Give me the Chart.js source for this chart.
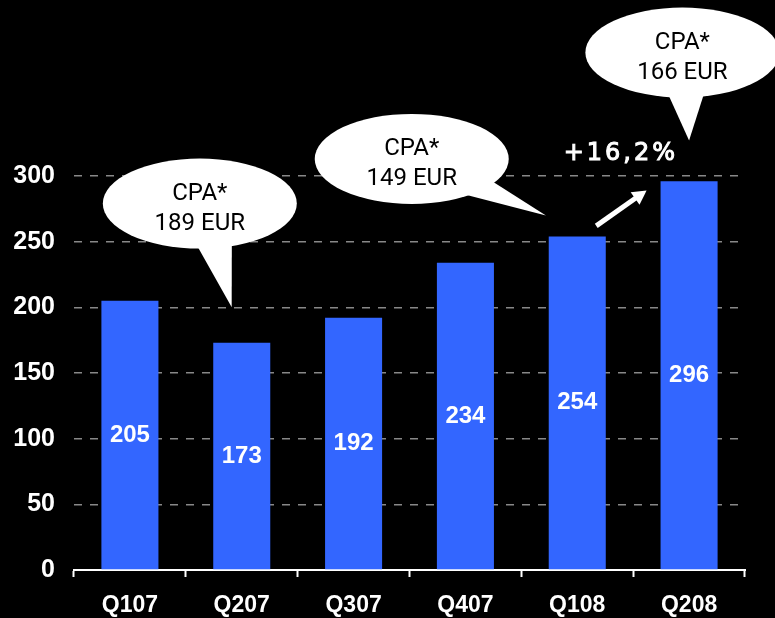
<!DOCTYPE html>
<html>
<head>
<meta charset="utf-8">
<script src="https://cdn.jsdelivr.net/npm/chart.js@4/dist/chart.umd.min.js"></script>
<style>
  html, body { margin: 0; padding: 0; background: #000; }
  #wrap { width: 775px; height: 618px; }
</style>
</head>
<body>
<div id="wrap"><canvas id="chart"></canvas></div>
<script>
var quarters = ['Q107', 'Q207', 'Q307', 'Q407', 'Q108', 'Q208'];
var values = [205, 173, 192, 234, 254, 296];
var yTicks = [0, 50, 100, 150, 200, 250, 300];

// speech bubbles: centre and tail tip given as (category index, value)
var bubbleText = [['CPA*', '189 EUR'], ['CPA*', '149 EUR'], ['CPA*', '166 EUR']];
var bubbleAt = [[0.625, 279], [2.52, 313], [4.94, 394]];
var bubbleTip = [[0.91, 200], [3.72, 270], [5.0, 327]];
var tailBase = [[[-4, 40], [32, 40]], [[80, 22], [55, 36]], [[-15, 40], [22, 40]]];

var growthLabel = '+16,2%';
var growthAt = [4.39, 317];
var arrowFrom = [4.17, 262];
var arrowTo = [4.62, 289];

var canvas = document.getElementById('chart');
var ctx = canvas.getContext('2d');

function px(chart, p){
  var x = chart.scales.x, y = chart.scales.y;
  var w = (x.right - x.left) / quarters.length;
  return [x.left + (p[0] + 0.5) * w, y.getPixelForValue(p[1])];
}

var extras = {
  id: 'extras',
  afterDatasetsDraw: function(chart){
    var c = chart.ctx;
    c.save();
    // values inside the bars
    var meta = chart.getDatasetMeta(0);
    c.fillStyle = '#fff';
    c.font = 'bold 24px "Liberation Sans", Arial, sans-serif';
    c.textAlign = 'center';
    c.textBaseline = 'middle';
    meta.data.forEach(function(bar, i){
      c.fillText(values[i], bar.x, (bar.y + bar.base) / 2);
    });

    // bubbles
    for(var i=0; i<bubbleText.length; i++){
      var ctr = px(chart, bubbleAt[i]);
      var tip = px(chart, bubbleTip[i]);
      c.fillStyle = '#fff';
      c.beginPath();
      c.ellipse(ctr[0], ctr[1], 97, 45, 0, 0, Math.PI * 2);
      c.fill();
      c.beginPath();
      c.moveTo(ctr[0] + tailBase[i][0][0], ctr[1] + tailBase[i][0][1]);
      c.lineTo(tip[0], tip[1]);
      c.lineTo(ctr[0] + tailBase[i][1][0], ctr[1] + tailBase[i][1][1]);
      c.closePath();
      c.fill();
      c.fillStyle = '#000';
      c.font = '24px Roboto, sans-serif';
      c.fillText(bubbleText[i][0], ctr[0], ctr[1] - 10);
      c.fillText(bubbleText[i][1], ctr[0], ctr[1] + 20);
    }

    // growth arrow
    var a = px(chart, arrowFrom), b = px(chart, arrowTo);
    var ang = Math.atan2(b[1] - a[1], b[0] - a[0]);
    var head = 16;
    c.strokeStyle = '#fff';
    c.lineWidth = 5;
    c.beginPath();
    c.moveTo(a[0], a[1]);
    c.lineTo(b[0] - Math.cos(ang) * head * 0.8, b[1] - Math.sin(ang) * head * 0.8);
    c.stroke();
    c.fillStyle = '#fff';
    c.beginPath();
    c.moveTo(b[0], b[1]);
    c.lineTo(b[0] - Math.cos(ang - 0.5) * head, b[1] - Math.sin(ang - 0.5) * head);
    c.lineTo(b[0] - Math.cos(ang + 0.5) * head, b[1] - Math.sin(ang + 0.5) * head);
    c.closePath();
    c.fill();

    var g = px(chart, growthAt);
    c.font = '24px "DejaVu Sans", sans-serif';
    c.letterSpacing = '3px';
    c.lineWidth = 1;
    c.strokeText(growthLabel, g[0], g[1]);
    c.fillText(growthLabel, g[0], g[1]);
    c.restore();
  }
};

var barChart = new Chart(ctx, {
  type: 'bar',
  data: {
    labels: quarters,
    datasets: [{
      data: values,
      backgroundColor: '#3366ff',
      barPercentage: 0.51,
      categoryPercentage: 1
    }]
  },
  options: {
    responsive: true,
    maintainAspectRatio: false,
    animation: false,
    layout: { padding: { top: 176, right: 30, left: 0, bottom: 0 } },
    plugins: { legend: { display: false }, tooltip: { enabled: false } },
    scales: {
      x: {
        afterFit: function(s){ s.height = 48; },
        border: { display: true, color: '#fff', width: 2 },
        grid: { drawOnChartArea: false, drawTicks: true, tickLength: 7, tickColor: '#fff', tickWidth: 2, offset: true },
        ticks: { color: '#fff', padding: 15, font: { family: '"Liberation Sans", Arial, sans-serif', size: 23, weight: 'bold' } }
      },
      y: {
        min: 0,
        max: 300,
        afterFit: function(s){ s.width = 74; },
        afterBuildTicks: function(s){ s.ticks = yTicks.map(function(v){ return { value: v }; }); },
        border: { display: false, dash: [8, 8] },
        grid: { color: '#888', lineWidth: 1.5, drawTicks: false },
        ticks: { color: '#fff', padding: 19, font: { family: '"Liberation Sans", Arial, sans-serif', size: 25, weight: 'bold' } }
      }
    }
  },
  plugins: [extras]
});
</script>
</body>
</html>
